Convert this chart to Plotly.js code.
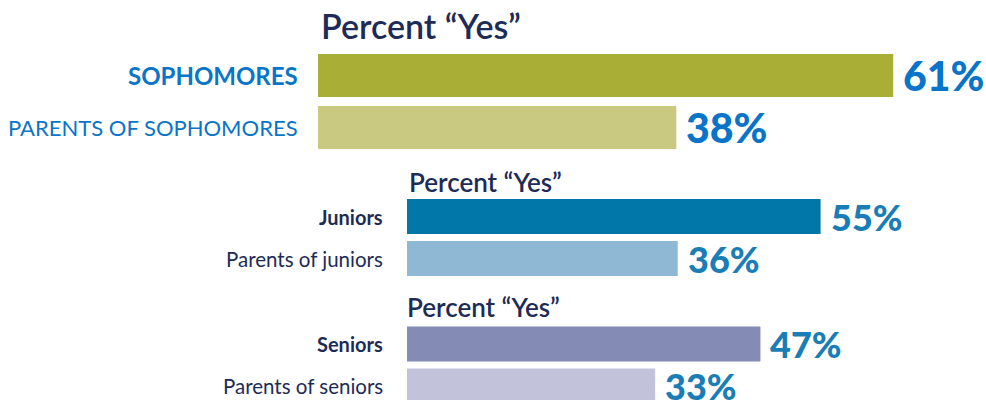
<!DOCTYPE html>
<html>
<head>
<meta charset="utf-8">
<script src="https://cdn.plot.ly/plotly-3.0.1.min.js"></script>
<style>html,body{margin:0;padding:0;background:#fff;}#chart{width:986px;height:400px;}</style>
</head>
<body>
<div id="chart"></div>
<script>
const titleText = 'Percent “Yes”';
const sophLabels = ['SOPHOMORES', 'PARENTS OF SOPHOMORES'];
const sophValues = [61, 38];
const juniorLabels = ['Juniors', 'Parents of juniors'];
const juniorValues = [55, 36];
const seniorLabels = ['Seniors', 'Parents of seniors'];
const seniorValues = [47, 33];
const sophColors = ['#a9ae37', '#c9c981'];
const juniorColors = ['#0077a8', '#8fb8d4'];
const seniorColors = ['#848bb5', '#c2c3da'];

const W = 986, H = 400;
const navy = '#1d2c57';
const numFont = 'Lato, Inter, sans-serif';
const labFont = 'Lato, "Open Sans", sans-serif';

const groups = [
  {labels: sophLabels, values: sophValues, colors: sophColors, xa: 'x', ya: 'y', w: 0.827,
   labelColor: '#0a74c9', labelSizes: [24, 22], numColor: '#0a74c9', numSize: 41, labelRight: 300,
   title: {x: 319, y: 26, size: 34}},
  {labels: juniorLabels, values: juniorValues, colors: juniorColors, xa: 'x2', ya: 'y2', w: 0.833,
   labelColor: navy, labelSizes: [20, 20.5], numColor: '#1a7db5', numSize: 36, labelRight: 385,
   title: {x: 407, y: 182, size: 26}},
  {labels: seniorLabels, values: seniorValues, colors: seniorColors, xa: 'x3', ya: 'y3', w: 0.833,
   labelColor: navy, labelSizes: [20, 20.5], numColor: '#1a7db5', numSize: 36, labelRight: 385,
   title: {x: 405, y: 307, size: 26}}
];

const data = groups.map(g => ({
  type: 'bar', orientation: 'h',
  x: g.values, y: g.labels,
  xaxis: g.xa, yaxis: g.ya,
  width: g.w,
  marker: {color: g.colors},
  hoverinfo: 'none'
}));

const annotations = [];
groups.forEach(g => {
  const yref = g.ya;
  const xref = g.xa;
  g.labels.forEach((lab, i) => {
    annotations.push({
      xref: 'paper', yref: yref, x: g.labelRight / W, y: lab,
      xanchor: 'right', yanchor: 'middle', showarrow: false,
      text: i === 0 ? '<b>' + lab + '</b>' : lab,
      font: {family: labFont, size: g.labelSizes[i], color: g.labelColor}
    });
    annotations.push({
      xref: xref, yref: yref, x: g.values[i], y: lab,
      xanchor: 'left', yanchor: 'middle', xshift: 8, showarrow: false,
      text: g.values[i] + '%',
      font: {family: numFont, size: g.numSize, color: g.numColor, weight: 900}
    });
  });
  annotations.push({
    xref: 'paper', yref: 'paper', x: g.title.x / W, y: 1 - g.title.y / H,
    xanchor: 'left', yanchor: 'middle', showarrow: false,
    text: titleText,
    font: {family: labFont, size: g.title.size, color: navy, weight: 600}
  });
});

const hidden = {showgrid: false, zeroline: false, showticklabels: false, showline: false, ticks: '', fixedrange: true};

const layout = {
  width: W, height: H,
  margin: {l: 0, r: 0, t: 0, b: 0},
  paper_bgcolor: '#fff', plot_bgcolor: 'rgba(0,0,0,0)',
  showlegend: false,
  xaxis: Object.assign({}, hidden, {domain: [318 / W, 1], range: [0, (W - 318) / 9.43], anchor: 'y'}),
  yaxis: Object.assign({}, hidden, {domain: [1 - 153.5 / H, 1 - 49.5 / H], range: [1.5, -0.5], type: 'category', anchor: 'x'}),
  xaxis2: Object.assign({}, hidden, {domain: [407 / W, 1], range: [0, (W - 407) / 7.52], anchor: 'y2'}),
  yaxis2: Object.assign({}, hidden, {domain: [1 - 279.5 / H, 1 - 195.5 / H], range: [1.5, -0.5], type: 'category', anchor: 'x2'}),
  xaxis3: Object.assign({}, hidden, {domain: [407 / W, 1], range: [0, (W - 407) / 7.52], anchor: 'y3'}),
  yaxis3: Object.assign({}, hidden, {domain: [0, 1 - 323 / H], range: [1.3333, -0.5], type: 'category', anchor: 'x3'}),
  annotations: annotations
};

Plotly.newPlot('chart', data, layout, {staticPlot: true, displayModeBar: false});
</script>
</body>
</html>
